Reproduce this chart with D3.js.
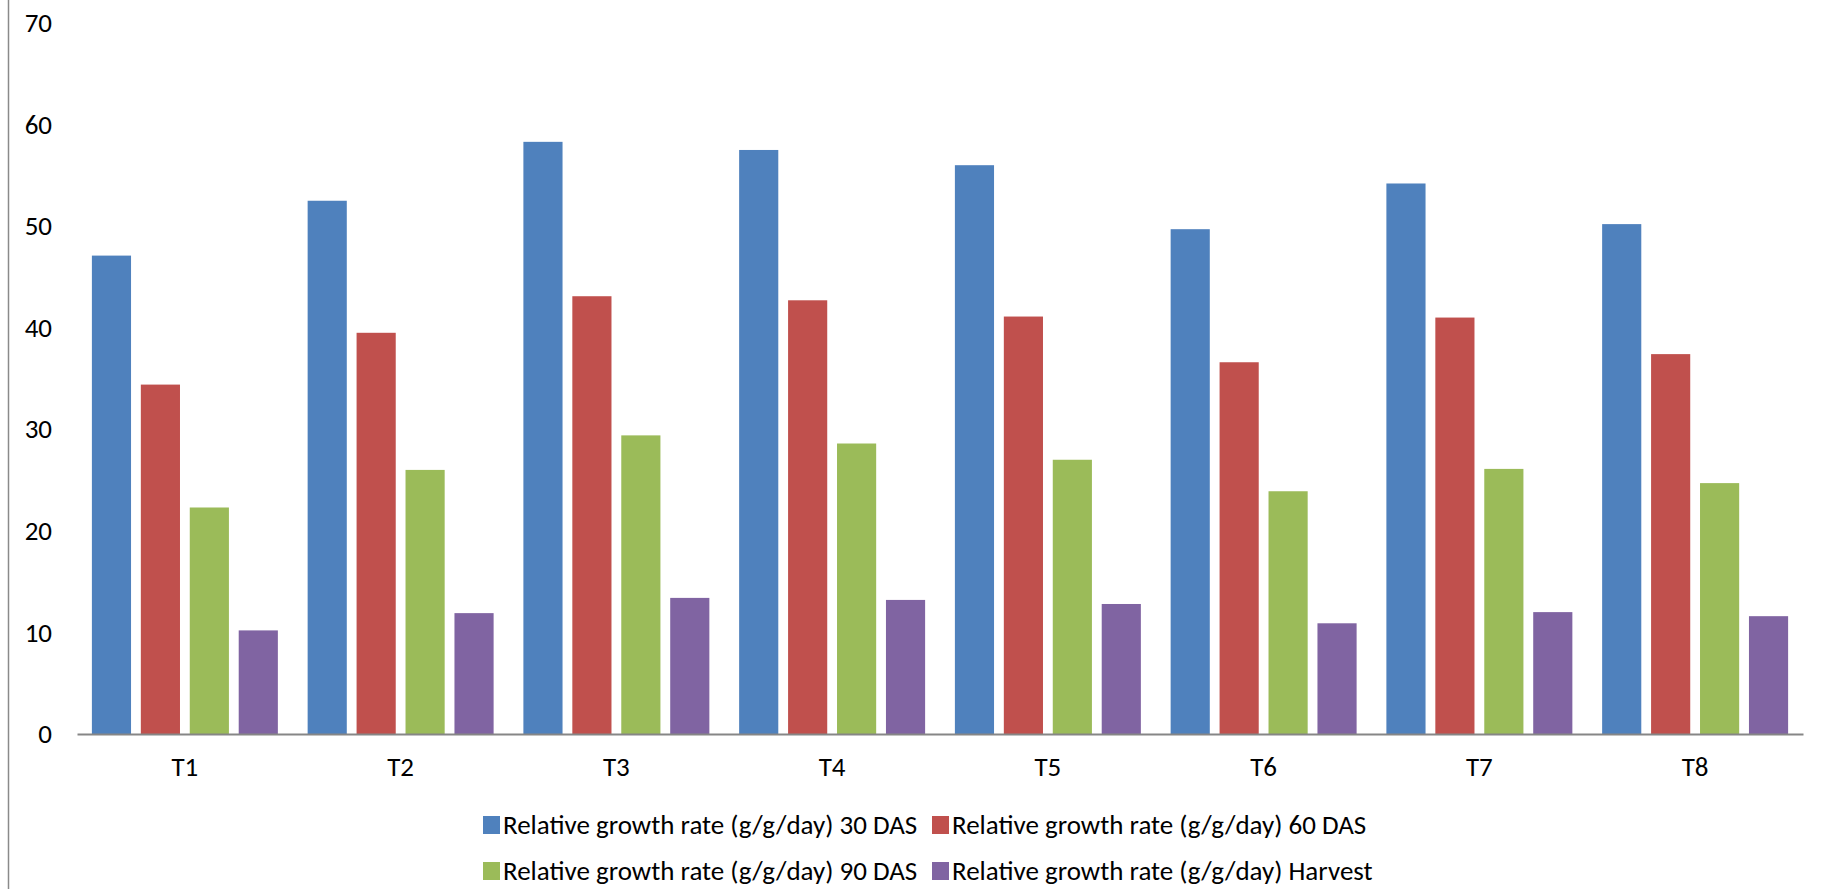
<!DOCTYPE html>
<html><head><meta charset="utf-8">
<script src="https://cdn.jsdelivr.net/npm/d3@7"></script>
<style>body{margin:0;background:#fff}svg{display:block}text{font-family:Carlito,Calibri,Lato,sans-serif;fill:#000}</style>
</head><body>
<svg id="c" width="1822" height="889"></svg>
<script>
const categories = ["T1","T2","T3","T4","T5","T6","T7","T8"];
const seriesNames = [
  "Relative growth rate (g/g/day) 30 DAS",
  "Relative growth rate (g/g/day) 60 DAS",
  "Relative growth rate (g/g/day) 90 DAS",
  "Relative growth rate (g/g/day) Harvest"
];
const das30   = [47.1, 52.5, 58.3, 57.5, 56.0, 49.7, 54.2, 50.2];
const das60   = [34.4, 39.5, 43.1, 42.7, 41.1, 36.6, 41.0, 37.4];
const das90   = [22.3, 26.0, 29.4, 28.6, 27.0, 23.9, 26.1, 24.7];
const harvest = [10.2, 11.9, 13.4, 13.2, 12.8, 10.9, 12.0, 11.6];
const yTicks  = [0, 10, 20, 30, 40, 50, 60, 70];
const colors  = ["#4F81BD", "#C0504D", "#9BBB59", "#8064A2"];

const series = [das30, das60, das90, harvest];
const svg = d3.select("#c");
const plotLeft = 77, plotRight = 1803, plotTop = 23, plotBottom = 734;
const fs = "27px";

// left border line
svg.append("line").attr("x1", 8.5).attr("x2", 8.5).attr("y1", 0).attr("y2", 889)
  .attr("stroke", "#8a8a8a").attr("stroke-width", 1.5);

const y = d3.scaleLinear().domain([0, 70]).range([plotBottom, plotTop]);
const x0 = d3.scaleBand().domain(categories).range([plotLeft, plotRight]).padding(0);
const gapOuter = x0.bandwidth() * 0.069;
const x1 = d3.scaleBand().domain(d3.range(4)).range([gapOuter, x0.bandwidth() - gapOuter]).paddingInner(0.2).paddingOuter(0);

// y labels
const yAxis = svg.append("g").attr("transform", `translate(${plotLeft},0)`)
  .call(d3.axisLeft(y).tickValues(yTicks).tickSize(0).tickPadding(25));
yAxis.select(".domain").remove();
yAxis.selectAll("text").style("font-size", fs).attr("fill", "#000").attr("font-family", null);

// bars
categories.forEach((c, i) => {
  const g = svg.append("g").attr("transform", `translate(${x0(c)},0)`);
  series.forEach((s, k) => {
    g.append("rect").attr("x", x1(k)).attr("width", x1.bandwidth())
      .attr("y", y(s[i])).attr("height", y(0) - y(s[i]))
      .attr("fill", colors[k]);
  });
});

// x axis
const xAxis = svg.append("g").attr("transform", `translate(0,${plotBottom})`)
  .call(d3.axisBottom(x0).tickSize(0).tickPadding(23));
xAxis.select(".domain").attr("stroke", "#868686").attr("stroke-width", 2);
xAxis.selectAll("text").style("font-size", fs).attr("fill", "#000").attr("font-family", null);

// legend
const legX = [483, 932];
const legY = [825, 871];
seriesNames.forEach((n, k) => {
  const lx = legX[k % 2], ly = legY[Math.floor(k / 2)];
  svg.append("rect").attr("x", lx).attr("y", ly - 9).attr("width", 17).attr("height", 18).attr("fill", colors[k]);
  svg.append("text").attr("x", lx + 20).attr("y", ly).attr("dy", "0.35em")
    .style("font-size", fs).text(n);
});
</script>
</body></html>
